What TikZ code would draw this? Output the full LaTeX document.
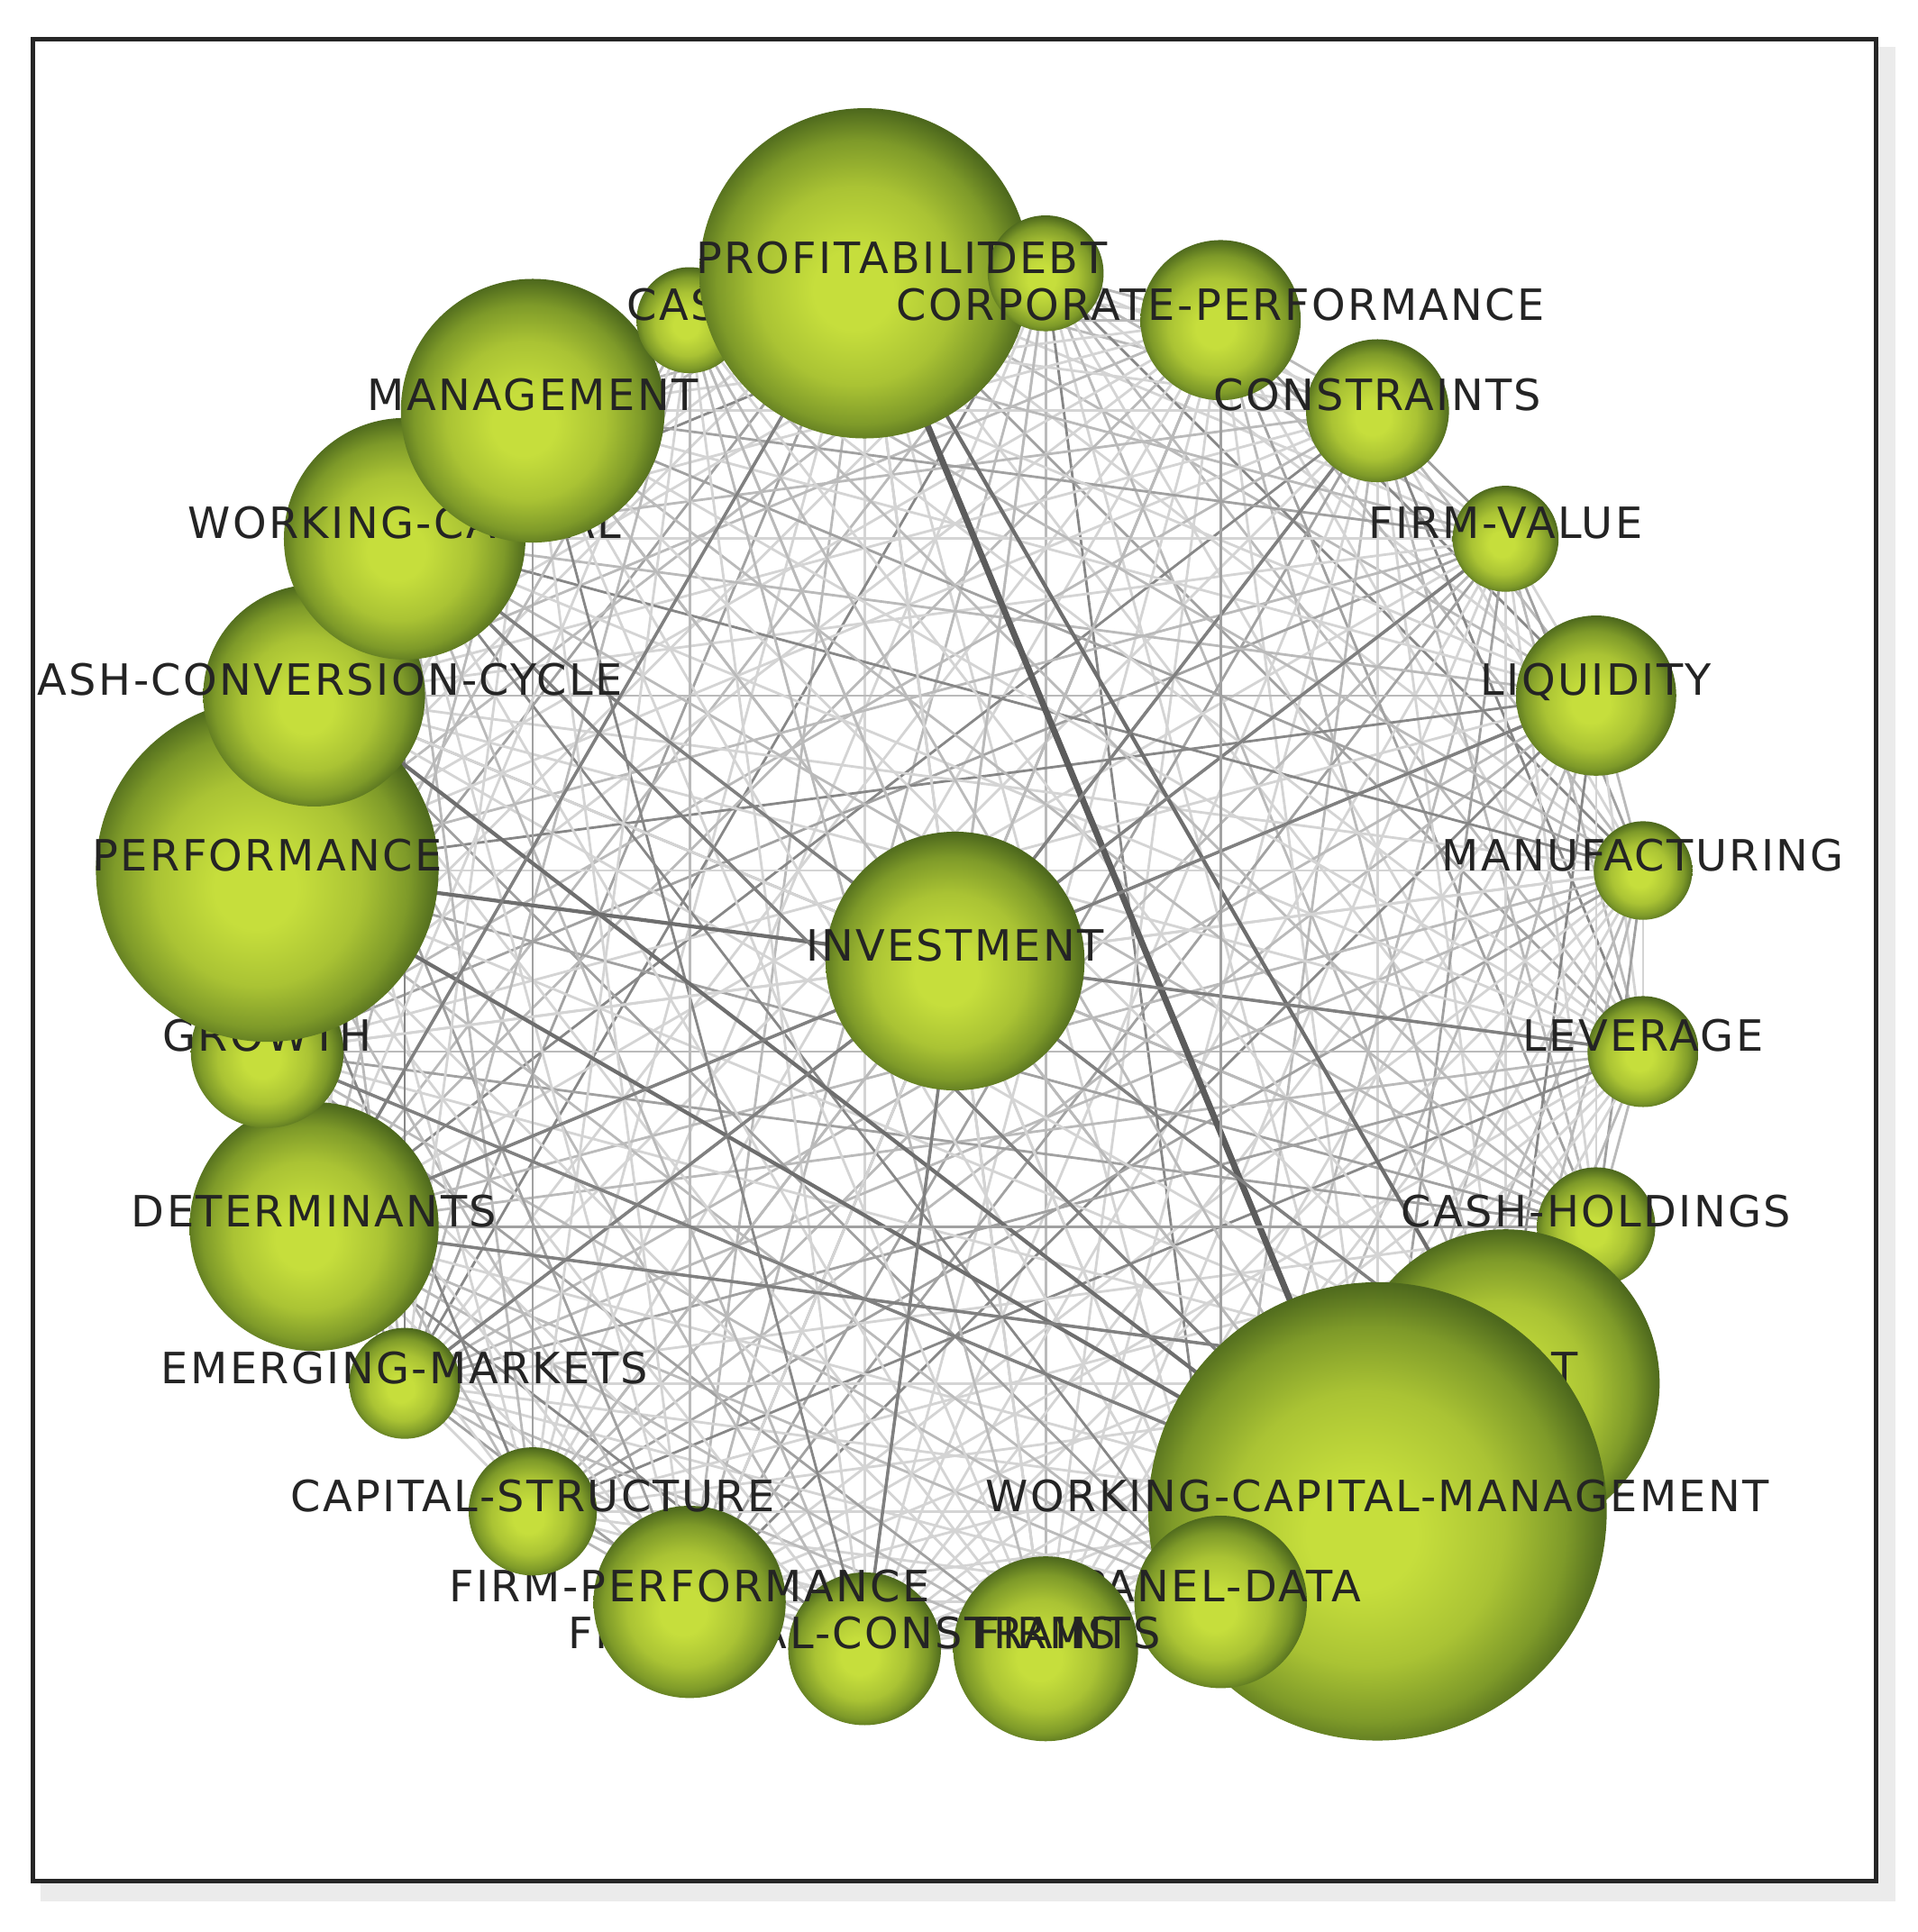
\documentclass[tikz,border=0pt]{standalone}
\usepackage{fontspec}
\newfontfamily\labfont[LetterSpace=5]{DejaVu Sans}
\definecolor{ballA}{HTML}{C6DE3C}
\definecolor{ballB}{HTML}{AAC334}
\definecolor{ballC}{HTML}{7E9A29}
\definecolor{ballD}{HTML}{4D681D}
\pgfdeclareradialshading{greenball}{\pgfpoint{-2bp}{-3bp}}{color(0bp)=(ballA); color(6bp)=(ballA); color(15bp)=(ballB); color(21.5bp)=(ballC); color(26bp)=(ballD); color(40bp)=(ballD)}
\newcommand\myball[3]{%
  \node[ballst, minimum size={2*#2*0.013676cm}] (b#1) at (n#1) {};
  \node[labst] (l#1) at (n#1) {#3};}
\begin{document}
\begin{tikzpicture}[x=0.013676cm, y=0.013676cm,
  ballst/.style={circle, inner sep=0pt, shade, shading=greenball},
  labst/.style={anchor=base, inner sep=0pt, text=black!86, font=\labfont\fontsize{13.6}{16}\selectfont},
  meshA/.style={line width=0.8pt, draw=black!17},
  meshB/.style={line width=0.8pt, draw=black!27},
  meshC/.style={line width=0.8pt, draw=black!37},
  meshD/.style={line width=0.8pt, draw=black!47},
  medium/.style={line width=1pt, draw=black!50},
  strong/.style={line width=1.2pt, draw=black!57},
]
\useasboundingbox (0,0) rectangle (1556,1568);
\fill[black!8] (33,25) rectangle (1538,1530);
\fill[white] (27,41) rectangle (1522,1536);
\foreach \k in {0,...,23}{
  \coordinate (n\k) at ({775+563*cos(97.5-15*\k)},{788+563*sin(97.5-15*\k)});
}
\coordinate (inv) at (775,788);
\begin{scope}
\clip (28.5,42.5) rectangle (1520.5,1534.5);
% mesh of links
\foreach \i in {0,...,22}{
  \pgfmathtruncatemacro\s{\i+1}
  \foreach \j in {\s,...,23}{
    \pgfmathtruncatemacro\h{mod(\i*7+\j*11+\i*\j,20)}
    \ifnum\h<11 \draw[meshA] (n\i) -- (n\j);
    \else\ifnum\h<16 \draw[meshB] (n\i) -- (n\j);
    \else\ifnum\h<19 \draw[meshC] (n\i) -- (n\j);
    \else \draw[meshD] (n\i) -- (n\j);
    \fi\fi\fi
  }
}
\foreach \k in {0,...,23}{
  \pgfmathtruncatemacro\h{mod(\k*13,7)}
  \ifnum\h<4 \draw[meshA] (inv) -- (n\k); \else \draw[meshB] (inv) -- (n\k); \fi
}
% stronger links
\draw[line width=2pt, draw=black!64] (n0) -- (n10);
\draw[strong] (n0) -- (n9);
\draw[strong] (n20) -- (n10);
\draw[strong] (n19) -- (n10);
\draw[strong] (n19) -- (inv);
\draw[medium] (n3) -- (inv);
\draw[medium] (n21) -- (n9);
\draw[medium] (n0) -- (n17);
\draw[medium] (n4) -- (n16);
\draw[medium] (n5) -- (n17);
\draw[medium] (inv) -- (n13);
\draw[meshC] (n17) -- (n8);
\draw[medium] (n17) -- (n9);
\draw[medium] (n18) -- (n10);
\draw[medium] (n21) -- (n10);
\draw[medium] (inv) -- (n7);
\draw[meshC] (n2) -- (n11);
% centre node
\node[ballst, minimum size={2*105*0.013676cm}] (binv) at (inv) {};
\node[labst] (linv) at (inv) {INVESTMENT};
% ring nodes, drawn clockwise
\myball{7}{45}{LEVERAGE}
\myball{8}{48}{CASH-HOLDINGS}
\node[ballst, minimum size={2*125*0.013676cm}] (b9) at (n9) {};
\node[labst] (l9) at ([xshift=48*0.013676cm]n9) {T};
\myball{10}{186}{WORKING-CAPITAL-MANAGEMENT}
\myball{11}{70}{PANEL-DATA}
\myball{12}{75}{FIRMS}
\myball{13}{62}{FINANCIAL-CONSTRAINTS}
\myball{14}{78}{FIRM-PERFORMANCE}
\myball{15}{52}{CAPITAL-STRUCTURE}
\myball{16}{45}{EMERGING-MARKETS}
\myball{17}{101}{DETERMINANTS}
\myball{18}{62}{GROWTH}
\myball{19}{139}{PERFORMANCE}
\myball{20}{90}{CASH-CONVERSION-CYCLE}
\myball{21}{98}{WORKING-CAPITAL}
\myball{22}{107}{MANAGEMENT}
\myball{23}{43}{CASH}
\myball{0}{134}{PROFITABILITY}
\myball{1}{47}{DEBT}
\myball{2}{65}{CORPORATE-PERFORMANCE}
\myball{3}{58}{CONSTRAINTS}
\myball{4}{43}{FIRM-VALUE}
\myball{5}{65}{LIQUIDITY}
\myball{6}{40}{MANUFACTURING}
\end{scope}
\draw[line width=1.4pt, black!85] (27,41) rectangle (1522,1536);
\end{tikzpicture}
\end{document}
